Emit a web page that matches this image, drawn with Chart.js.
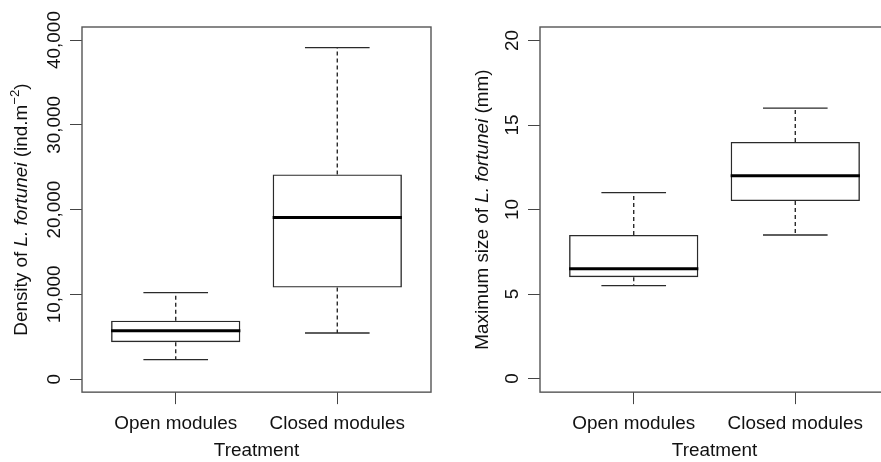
<!DOCTYPE html>
<html lang="en">
<head>
    <meta charset="UTF-8">
    <title>L. fortunei density and size by treatment</title>
    <script src="https://cdn.jsdelivr.net/npm/chart.js"></script>
    <style>
        html, body { margin: 0; padding: 0; background: #fff; overflow: hidden; }
        .panel { position: absolute; top: 0; }
        #leftPanel { left: 0; width: 440px; height: 462px; }
        #rightPanel { left: 440px; width: 460px; height: 462px; }
    </style>
</head>
<body>
    <div class="panel" id="leftPanel"><canvas id="densityChart" width="440" height="462"></canvas></div>
    <div class="panel" id="rightPanel"><canvas id="sizeChart" width="460" height="462"></canvas></div>

    <script>
        // Treatments
        const categories = ['Open modules', 'Closed modules'];

        // Density of L. fortunei (ind.m-2): five-number summaries
        const densityMin = [2300, 5450];
        const densityQ1 = [4350, 10800];
        const densityMedian = [5700, 19050];
        const densityQ3 = [6900, 24150];
        const densityMax = [10200, 39100];
        const densityTicks = [0, 10000, 20000, 30000, 40000];

        // Maximum size of L. fortunei (mm)
        const sizeMin = [5.5, 8.5];
        const sizeQ1 = [6, 10.5];
        const sizeMedian = [6.5, 12];
        const sizeQ3 = [8.5, 14];
        const sizeMax = [11, 16];
        const sizeTicks = [0, 5, 10, 15, 20];

        const FONT = '"Liberation Sans", Arial, Helvetica, sans-serif';
        const FONT_SIZE = 18.9;
        const TEXT_COLOR = '#111';
        const LINE_COLOR = '#2a2a2a';

        // draws whiskers, medians, the frame, rotated y tick labels and the y title
        const boxplotPlugin = {
            id: 'boxplot',
            afterDatasetsDraw(chart, args, opts) {
                const ctx = chart.ctx;
                const y = chart.scales.y;
                const area = chart.chartArea;
                const bars = chart.getDatasetMeta(0).data;

                ctx.save();
                bars.forEach((bar, i) => {
                    const half = bar.width / 2;
                    const cap = bar.width / 4;
                    const yMin = y.getPixelForValue(opts.min[i]);
                    const yMax = y.getPixelForValue(opts.max[i]);
                    const yQ1 = y.getPixelForValue(opts.q1[i]);
                    const yQ3 = y.getPixelForValue(opts.q3[i]);
                    const yMed = y.getPixelForValue(opts.median[i]);

                    // dashed whiskers
                    ctx.strokeStyle = LINE_COLOR;
                    ctx.lineWidth = 1.4;
                    ctx.setLineDash([4, 3]);
                    ctx.beginPath();
                    ctx.moveTo(bar.x, yQ3);
                    ctx.lineTo(bar.x, yMax);
                    ctx.moveTo(bar.x, yQ1);
                    ctx.lineTo(bar.x, yMin);
                    ctx.stroke();

                    // whisker caps
                    ctx.setLineDash([]);
                    ctx.beginPath();
                    ctx.moveTo(bar.x - cap, yMax);
                    ctx.lineTo(bar.x + cap, yMax);
                    ctx.moveTo(bar.x - cap, yMin);
                    ctx.lineTo(bar.x + cap, yMin);
                    ctx.stroke();

                    // median
                    ctx.strokeStyle = '#000';
                    ctx.lineWidth = 3;
                    ctx.beginPath();
                    ctx.moveTo(bar.x - half, yMed);
                    ctx.lineTo(bar.x + half, yMed);
                    ctx.stroke();
                });

                // plot frame
                ctx.strokeStyle = '#555';
                ctx.lineWidth = 1.4;
                ctx.strokeRect(area.left, area.top, area.right - area.left, area.bottom - area.top);

                // y tick labels, rotated like R's default
                ctx.fillStyle = TEXT_COLOR;
                ctx.font = FONT_SIZE + 'px ' + FONT;
                ctx.textAlign = 'center';
                ctx.textBaseline = 'middle';
                y.ticks.forEach(t => {
                    ctx.save();
                    ctx.translate(area.left - 27.5, y.getPixelForValue(t.value));
                    ctx.rotate(-Math.PI / 2);
                    ctx.fillText(opts.tickFormat(t.value), 0, 0);
                    ctx.restore();
                });

                // y title made of pieces (italic species name, superscript)
                ctx.save();
                ctx.translate(opts.titleX, (area.top + area.bottom) / 2);
                ctx.rotate(-Math.PI / 2);
                ctx.textAlign = 'left';
                ctx.textBaseline = 'alphabetic';
                const pieces = opts.title.map(p => {
                    const size = p.sup ? FONT_SIZE * 0.7 : FONT_SIZE;
                    const font = (p.italic ? 'italic ' : '') + size + 'px ' + FONT;
                    ctx.font = font;
                    return { text: p.text, font, sup: p.sup, w: ctx.measureText(p.text).width };
                });
                const total = pieces.reduce((s, p) => s + p.w, 0);
                let x = -total / 2;
                pieces.forEach(p => {
                    ctx.font = p.font;
                    ctx.fillText(p.text, x, p.sup ? -FONT_SIZE * 0.42 : 0);
                    x += p.w;
                });
                ctx.restore();
                ctx.restore();
            }
        };

        function makeChart(canvasId, q1, q3, min, median, max, ticks, yMin, yMax, tickFormat, title, titleX, padding) {
            return new Chart(document.getElementById(canvasId), {
                type: 'bar',
                data: {
                    datasets: [{
                        data: categories.map((c, i) => ({ x: i + 1, y: [q1[i], q3[i]] })),
                        backgroundColor: 'rgba(255,255,255,0)',
                        borderColor: LINE_COLOR,
                        borderWidth: 1.4,
                        borderSkipped: false,
                        barPercentage: 0.8,
                        categoryPercentage: 1
                    }]
                },
                options: {
                    responsive: false,
                    animation: false,
                    devicePixelRatio: 1,
                    layout: { padding: padding },
                    plugins: {
                        legend: { display: false },
                        tooltip: { enabled: false },
                        boxplot: { q1, q3, min, median, max, tickFormat, title, titleX }
                    },
                    scales: {
                        x: {
                            type: 'linear',
                            min: 0.42,
                            max: 2.58,
                            offset: false,
                            afterBuildTicks: s => { s.ticks = categories.map((c, i) => ({ value: i + 1 })); },
                            ticks: {
                                callback: v => categories[v - 1] || '',
                                autoSkip: false,
                                maxRotation: 0,
                                padding: 8,
                                color: TEXT_COLOR,
                                font: { family: FONT, size: FONT_SIZE }
                            },
                            grid: { offset: false, drawOnChartArea: false, tickLength: 12, color: '#444' },
                            border: { display: false },
                            title: {
                                display: true,
                                text: 'Treatment',
                                color: TEXT_COLOR,
                                font: { family: FONT, size: FONT_SIZE },
                                padding: { top: -3.5, bottom: 0 }
                            }
                        },
                        y: {
                            min: yMin,
                            max: yMax,
                            afterBuildTicks: s => { s.ticks = ticks.map(v => ({ value: v })); },
                            ticks: { display: false },
                            grid: { drawOnChartArea: false, tickLength: 12, color: '#444' },
                            border: { display: false }
                        }
                    }
                },
                plugins: [boxplotPlugin]
            });
        }

        makeChart('densityChart', densityQ1, densityQ3, densityMin, densityMedian, densityMax,
            densityTicks, -1534, 41534, v => v.toLocaleString('en-US'),
            [{ text: 'Density of ' }, { text: 'L. fortunei', italic: true }, { text: ' (ind.m' },
             { text: '\u22122', sup: true }, { text: ')' }],
            26.5, { left: 70, right: 9, top: 27, bottom: 0 });

        // right panel sits at x=440, so its title position is in local canvas pixels
        makeChart('sizeChart', sizeQ1, sizeQ3, sizeMin, sizeMedian, sizeMax,
            sizeTicks, -0.8, 20.8, v => String(v),
            [{ text: 'Maximum size of ' }, { text: 'L. fortunei', italic: true }, { text: ' (mm)' }],
            48, { left: 88, right: 11, top: 27, bottom: 0 });
    </script>
</body>
</html>
